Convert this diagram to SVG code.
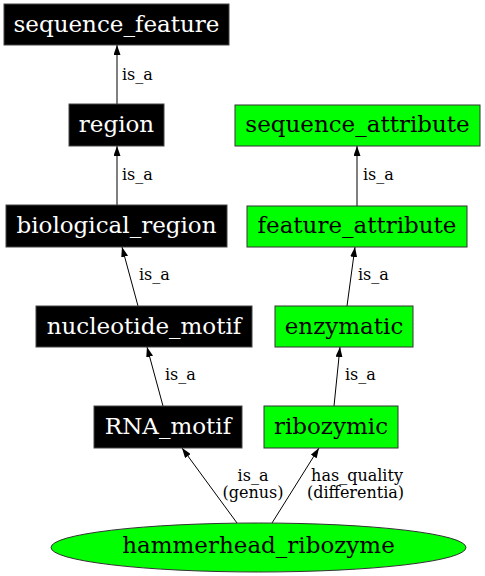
<svg xmlns="http://www.w3.org/2000/svg" width="485" height="576" viewBox="0 0 485 576">
<style>
.nt{font-family:"DejaVu Serif","Liberation Serif",serif;font-size:23px;text-anchor:middle}
.blk rect{fill:#000;stroke:#444;stroke-width:1}
.blk text{fill:#fff}
.grn rect,.grn ellipse{fill:#00ff00;stroke:#333;stroke-width:1}
.grn text{fill:#000}
.el{font-family:"DejaVu Serif","Liberation Serif",serif;font-size:16px;fill:#000}
.e line{stroke:#000;stroke-width:1;marker-end:url(#ah)}
</style>
<defs>
<marker id="ah" markerUnits="userSpaceOnUse" markerWidth="10" markerHeight="7" refX="10" refY="3.5" orient="auto">
<path d="M0,0 L10,3.5 L0,7 z" fill="#000"/>
</marker>
</defs>
<rect width="485" height="576" fill="#fff"/>
<g id="edges" class="e">
<line x1="117" y1="104" x2="117" y2="45"/>
<line x1="117" y1="205" x2="117" y2="146"/>
<line x1="138" y1="306" x2="122" y2="247"/>
<line x1="163" y1="406" x2="147" y2="347"/>
<line x1="357" y1="206" x2="357" y2="146"/>
<line x1="347" y1="306" x2="355" y2="247"/>
<line x1="334" y1="406" x2="340" y2="347"/>
<line x1="237" y1="523" x2="182" y2="448"/>
<line x1="272" y1="523" x2="319" y2="448"/>
<text class="el" x="122" y="80">is_a</text>
<text class="el" x="122" y="180">is_a</text>
<text class="el" x="139" y="280">is_a</text>
<text class="el" x="165" y="380">is_a</text>
<text class="el" x="363" y="180">is_a</text>
<text class="el" x="358" y="280">is_a</text>
<text class="el" x="345" y="380">is_a</text>
<text class="el" x="253" y="481" text-anchor="middle">is_a</text>
<text class="el" x="253" y="498" text-anchor="middle">(genus)</text>
<text class="el" x="357" y="481" text-anchor="middle">has_quality</text>
<text class="el" x="355.5" y="498" text-anchor="middle">(differentia)</text>
</g>
<g id="sequence_feature" class="blk"><rect x="4" y="4" width="225" height="41"/><text class="nt" x="116.5" y="32">sequence_feature</text></g>
<g id="region" class="blk"><rect x="69" y="104" width="95" height="42"/><text class="nt" x="116.5" y="132">region</text></g>
<g id="biological_region" class="blk"><rect x="6" y="205" width="221" height="42"/><text class="nt" x="116.5" y="233">biological_region</text></g>
<g id="nucleotide_motif" class="blk"><rect x="36" y="306" width="216" height="41"/><text class="nt" x="144" y="334">nucleotide_motif</text></g>
<g id="RNA_motif" class="blk"><rect x="94" y="406" width="148" height="42"/><text class="nt" x="168" y="434">RNA_motif</text></g>
<g id="sequence_attribute" class="grn"><rect x="235" y="105" width="245" height="41"/><text class="nt" x="357.5" y="132">sequence_attribute</text></g>
<g id="feature_attribute" class="grn"><rect x="247" y="206" width="220" height="41"/><text class="nt" x="357" y="233">feature_attribute</text></g>
<g id="enzymatic" class="grn"><rect x="275" y="306" width="138" height="41"/><text class="nt" x="344" y="334">enzymatic</text></g>
<g id="ribozymic" class="grn"><rect x="264" y="406" width="134" height="42"/><text class="nt" x="331" y="434">ribozymic</text></g>
<g id="hammerhead_ribozyme" class="grn"><ellipse cx="258.5" cy="547.5" rx="207.5" ry="24.5"/><text class="nt" x="258.5" y="553">hammerhead_ribozyme</text></g>
</svg>
